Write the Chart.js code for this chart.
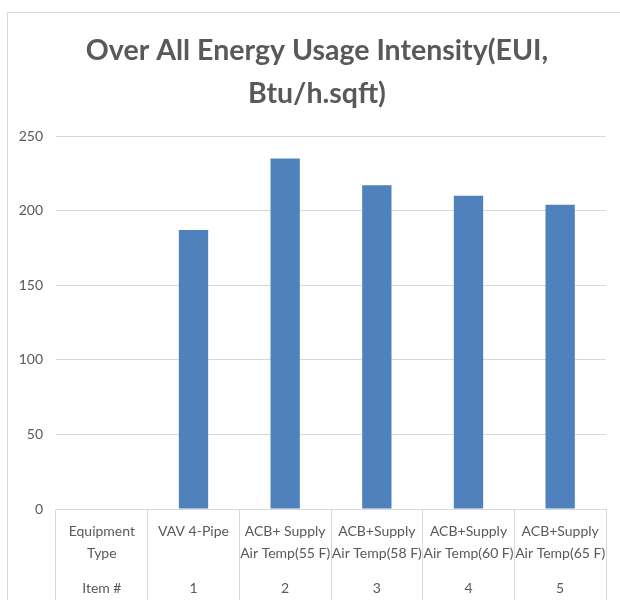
<!DOCTYPE html>
<html>
<head>
<meta charset="utf-8">
<script src="https://cdn.jsdelivr.net/npm/chart.js@4"></script>
<style>
  html, body { margin: 0; padding: 0; background: #ffffff; }
  #wrap { position: relative; width: 620px; height: 603px; overflow: hidden; }
  #frame { position: absolute; left: 7px; top: 12px; width: 700px; height: 587px;
           border-top: 1px solid #d9d9d9; border-left: 1px solid #d9d9d9; }
  #chart { position: absolute; left: 0; top: 0; }
</style>
</head>
<body>
<div id="wrap">
  <div id="frame"></div>
  <canvas id="chart" width="620" height="603"></canvas>
</div>
<script>
// Equipment types (first column is the row header of the category table)
const equipmentTypes = [
  ["Equipment", "Type"],
  ["VAV 4-Pipe"],
  ["ACB+ Supply", "Air Temp(55 F)"],
  ["ACB+Supply", "Air Temp(58 F)"],
  ["ACB+Supply", "Air Temp(60 F)"],
  ["ACB+Supply", "Air Temp(65 F)"]
];
// Item numbers shown in the second table row
const itemNumbers = ["Item #", "1", "2", "3", "4", "5"];
// Overall EUI, Btu/h.sqft (no value for the header column)
const euiValues = [null, 187, 235, 217, 210, 204];
// Value axis ticks
const yTicks = [0, 50, 100, 150, 200, 250];

const fontFamily = "Lato, 'Open Sans', 'Liberation Sans', sans-serif";
const textColor = "#595959";
const lineColor = "#d9d9d9";

new Chart(document.getElementById("chart"), {
  type: "bar",
  data: {
    labels: equipmentTypes,
    datasets: [{
      data: euiValues,
      backgroundColor: "#4F81BD",
      borderWidth: 0,
      categoryPercentage: 1,
      barPercentage: 0.32
    }]
  },
  options: {
    responsive: false,
    animation: false,
    layout: { padding: { left: 14, right: 0, top: 0, bottom: 0 } },
    plugins: {
      legend: { display: false },
      tooltip: { enabled: false },
      title: {
        display: true,
        text: ["Over All Energy Usage Intensity(EUI,", "Btu/h.sqft)"],
        color: textColor,
        font: { family: fontFamily, size: 28.5, weight: "bold", lineHeight: "43px" },
        padding: { top: 29.5, bottom: 20.5 }
      }
    },
    scales: {
      y: {
        min: yTicks[0],
        max: yTicks[yTicks.length - 1],
        afterBuildTicks: (scale) => { scale.ticks = yTicks.map(v => ({ value: v })); },
        afterFit: (scale) => { scale.width = 42; },
        border: { display: false },
        grid: { color: lineColor, drawTicks: false },
        ticks: { color: textColor, padding: 13, font: { family: fontFamily, size: 14 } }
      },
      // empty right-hand margin inside the plot frame
      yRight: {
        type: "linear",
        position: "right",
        afterFit: (scale) => { scale.width = 14; },
        border: { display: false },
        grid: { display: false, drawTicks: false },
        ticks: { display: false }
      },
      x: {
        weight: 0,
        afterFit: (scale) => { scale.height = 60; },
        border: { display: true, color: lineColor },
        grid: { offset: true, drawOnChartArea: false, drawTicks: true, tickLength: 91, color: lineColor },
        ticks: {
          color: textColor, padding: -79.5, maxRotation: 0, autoSkip: false,
          font: { family: fontFamily, size: 14, lineHeight: "22px" }
        }
      },
      x2: {
        type: "category",
        position: "bottom",
        weight: 1,
        labels: itemNumbers,
        offset: true,
        afterFit: (scale) => { scale.height = 34; },
        border: { display: false },
        grid: { display: false, drawTicks: false },
        ticks: {
          color: textColor, padding: 7.5, maxRotation: 0, autoSkip: false,
          font: { family: fontFamily, size: 14, lineHeight: "23px" }
        }
      }
    }
  }
});
</script>
</body>
</html>
